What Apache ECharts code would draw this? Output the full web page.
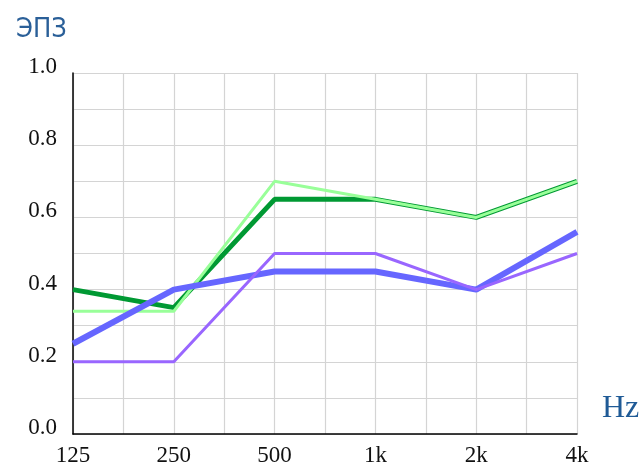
<!DOCTYPE html>
<html><head><meta charset="utf-8">
<script src="https://cdn.jsdelivr.net/npm/echarts@6/dist/echarts.min.js"></script>
<style>html,body{margin:0;padding:0;background:#fff}#c{width:640px;height:468px}</style>
</head><body><div id="c"></div>
<script>
const categories = ['125', '250', '500', '1k', '2k', '4k'];
const darkGreen = [0.40, 0.35, 0.65, 0.65, 0.60, 0.70];
const lightGreen = [0.34, 0.34, 0.70, 0.65, 0.60, 0.70];
const blue = [0.25, 0.40, 0.45, 0.45, 0.40, 0.56];
const purple = [0.20, 0.20, 0.50, 0.50, 0.40, 0.50];
const yTicks = ['0.0', '0.2', '0.4', '0.6', '0.8', '1.0'];

const toPts = arr => arr.map((v, i) => [i, v]);
const chart = echarts.init(document.getElementById('c'));
const mk = (data, color, width, z) => ({
  type: 'line', data: toPts(data), symbol: 'none', z: z,
  lineStyle: { color: color, width: width }, itemStyle: { color: color }
});
chart.setOption({
  animation: false,
  grid: { left: 73, right: 63, top: 73, bottom: 34 },
  title: [
    { text: 'ЭПЗ', left: 11, top: 11, textStyle: { fontFamily: 'DejaVu Sans Condensed', fontWeight: 'normal', fontSize: 27, color: '#2a5f98' } },
    { text: 'Hz', left: 597, top: 388, textStyle: { fontFamily: 'Liberation Serif', fontWeight: 'normal', fontSize: 32, color: '#1f5a96' } }
  ],
  xAxis: {
    type: 'value', min: 0, max: 5, interval: 0.5,
    axisLine: { show: true, lineStyle: { color: '#000', width: 1.5 } },
    axisTick: { show: false },
    splitLine: { show: true, lineStyle: { color: '#d4d4d4', width: 1.2 } },
    axisLabel: {
      margin: 10, fontFamily: 'Liberation Serif', fontSize: 23, color: '#111',
      formatter: v => Number.isInteger(v) ? categories[v] : ''
    }
  },
  yAxis: {
    type: 'value', min: 0, max: 1, interval: 0.1,
    axisLine: { show: true, lineStyle: { color: '#000', width: 1.5 } },
    axisTick: { show: false },
    splitLine: { show: true, lineStyle: { color: '#d4d4d4', width: 1.2 } },
    axisLabel: {
      margin: 16, fontFamily: 'Liberation Serif', fontSize: 23, color: '#111',
      verticalAlign: 'bottom', lineHeight: 12,
      formatter: v => { const k = Math.round(v * 10); return k % 2 === 0 ? yTicks[k / 2] : ''; }
    }
  },
  series: [
    mk(darkGreen, '#009933', 5, 2),
    mk(lightGreen, '#99ff99', 3, 3),
    mk(blue, '#6666ff', 6, 4),
    mk(purple, '#9966ff', 3, 5)
  ]
});
</script></body></html>
